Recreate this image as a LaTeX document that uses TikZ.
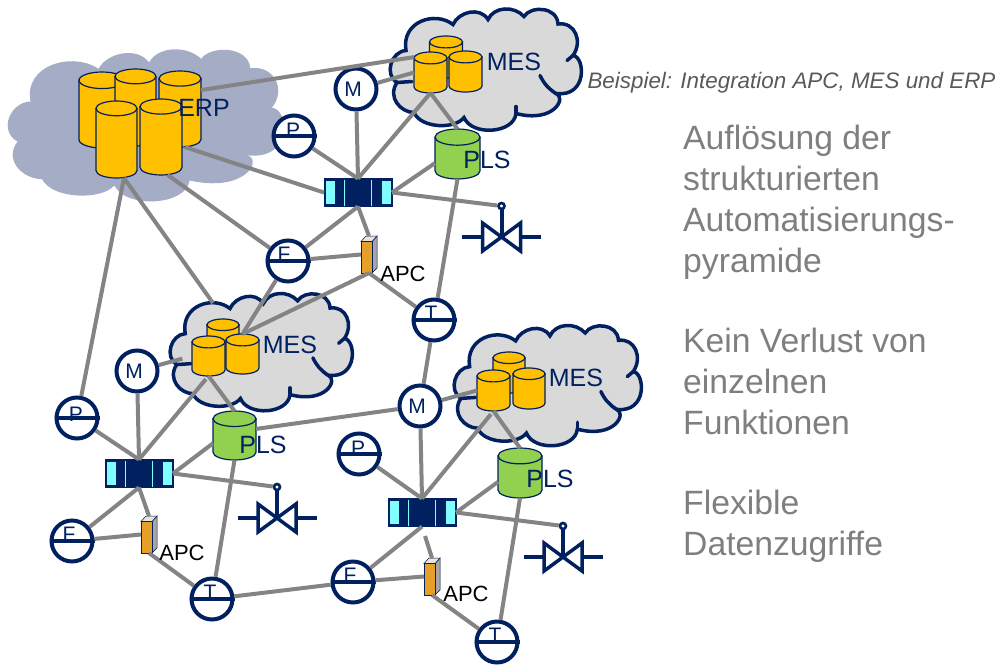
\documentclass[tikz,border=0pt]{standalone}
\usepackage{fontspec}
\setmainfont{Liberation Sans}
\definecolor{navy}{HTML}{002060}
\definecolor{linegray}{HTML}{848484}
\definecolor{sw}{HTML}{7FFFFF}
\definecolor{yel}{HTML}{FFC000}
\definecolor{grn}{HTML}{92D050}
\definecolor{cgray}{HTML}{D9D9D9}
\definecolor{cblue}{HTML}{A5ADC6}
\definecolor{txtgray}{HTML}{7F7F7F}
\definecolor{capgray}{HTML}{595959}
\definecolor{org}{HTML}{E6A02A}
\definecolor{sidegray}{HTML}{A6A6A6}
\tikzset{
 conn/.style={draw=linegray,line width=4pt},
 tail/.style={line width=3.5pt,draw=navy,line cap=round},
 dev/.style={circle,draw=navy,line width=4pt,fill=white,minimum size=41pt,inner sep=0pt},
 devl/.style={anchor=base,text=navy,inner sep=0pt,font=\fontsize{21}{24}\selectfont},
 box/.style={rectangle,inner sep=0pt,outer sep=0pt},
 cylb/.style={draw=navy,line width=1.2pt},
 lab/.style={anchor=center,text=navy,inner sep=0pt,font=\fontsize{25}{30}\selectfont},
 apcl/.style={anchor=center,text=black,inner sep=0pt,font=\fontsize{22}{26}\selectfont},
 side/.style={anchor=north west,text=txtgray,inner sep=0pt,align=left,font=\fontsize{33.7}{41}\selectfont},
}
\newcommand{\cloudfig}[6]{%
 \begin{scope}[shift={(#2,#3)},xscale=#4/191,yscale=#5/122]
  \path[#6] (17,41)
   .. controls (12,12) and (46,1) .. (64,15)
   .. controls (70,2) and (91,-3) .. (99,10)
   .. controls (105,-3) and (125,-4) .. (135,7)
   .. controls (142,-4) and (168,-3) .. (169,14.5)
   .. controls (186,12) and (194,32) .. (184,46)
   .. controls (196,47) and (199,88) .. (167,84)
   .. controls (178,88) and (165,114) .. (127,104)
   .. controls (125,124) and (83,127) .. (75,108)
   .. controls (66,120) and (32,119) .. (25,103)
   .. controls (12,103) and (-2,88) .. (8,73)
   .. controls (-5,65) and (2,42) .. (17,41) -- cycle;
  \ifx#1n\else
  \draw[tail] (167,84) to[bend left=15] (151,66);
  \draw[tail] (184,46) -- (178,51);
  \draw[tail] (127,104) -- (127,97);
  \draw[tail] (8,73) -- (23,72);
  \fi
 \end{scope}}
\newcommand{\cyl}[6]{%
 \pgfmathsetmacro{\cx}{(#2+#3)/2}\pgfmathsetmacro{\rx}{(#3-#2)/2}
 \pgfmathsetmacro{\ry}{\rx*0.36}\pgfmathsetmacro{\T}{#4+\ry}\pgfmathsetmacro{\B}{#5-\ry}
 \node[box,minimum width={(#3-#2)*1pt},minimum height={(#5-#4)*1pt}] (#1) at (\cx,{(#4+#5)/2}) {};
 \draw[cylb,fill=#6] (#2,\T) -- (#2,\B) .. controls (#2,{\B+.55*\ry}) and ({\cx-.55*\rx},{\B+\ry}) .. (\cx,{\B+\ry})
   .. controls ({\cx+.55*\rx},{\B+\ry}) and (#3,{\B+.55*\ry}) .. (#3,\B) -- (#3,\T) -- cycle;
 \draw[cylb,fill=#6] (\cx,\T) ellipse [x radius=\rx,y radius=\ry];}
\newcommand{\swb}[5]{% name x y w lines
 \node[box,fill=navy,draw=navy,line width=1pt,minimum width=68pt,minimum height=28pt] (#1) at (#2,#3) {};
 \fill[sw] ({#2-32},{#3-11.5}) rectangle ({#2-23},{#3+11.5});
 \fill[sw] ({#2+23.5},{#3-11.5}) rectangle ({#2+32.5},{#3+11.5});
 \draw[sw,line width=.7pt] ({#2-14},{#3-13}) -- ({#2-14},{#3+13}) ({#2+13},{#3-13}) -- ({#2+13},{#3+13});
 \ifx#4y\draw[sw,line width=.7pt] ({#2},{#3-13}) -- ({#2},{#3+13});\fi}
\newcommand{\devc}[6]{% name x y letter xoff yoff
 \node[dev] (#1) at (#2,#3) {};
 \node[devl] (#1t) at ({#2+#5},{#3+#6}) {#4};
 \draw[navy,line width=4pt] (#1.west) -- (#1.east);}
\newcommand{\devm}[3]{% name x y
 \node[dev] (#1) at (#2,#3) {};
 \node[devl,anchor=center] (#1t) at ({#2-3},{#3+.5}) {M};}
\newcommand{\apcb}[3]{% name left top
 \node[box,minimum width=16pt,minimum height=37pt] (#1) at ({#2+8},{#3+18.5}) {};
 \draw[navy!60!black,line width=.5pt,fill=sidegray] ({#2+11},{#3+5.5}) -- ({#2+16},{#3}) -- ({#2+16},{#3+32}) -- ({#2+11},{#3+37}) -- cycle;
 \draw[navy!60!black,line width=.5pt,fill=gray!20] ({#2},{#3+5.5}) -- ({#2+5},{#3}) -- ({#2+16},{#3}) -- ({#2+11},{#3+5.5}) -- cycle;
 \draw[navy,line width=1pt,fill=org] ({#2},{#3+5.5}) rectangle ({#2+11},{#3+37});}
\newcommand{\valve}[3]{% name x ytop
 \draw[navy,line width=4pt] (#2,#3) -- (#2,{#3+31});
 \draw[navy,line width=4pt] ({#2-39.5},{#3+31}) -- ({#2-19},{#3+31}) ({#2+19},{#3+31}) -- ({#2+39.5},{#3+31});
 \draw[navy,line width=3.5pt,fill=white,line join=miter] ({#2-19},{#3+17}) -- ({#2+19},{#3+45}) -- ({#2+19},{#3+17}) -- ({#2-19},{#3+45}) -- cycle;
 \draw[navy,line width=4pt] (#2,{#3+20}) -- (#2,{#3+31});
 \node[circle,draw=navy,line width=2.6pt,fill=white,minimum size=6pt,inner sep=0pt] (#1) at (#2,#3) {};}
\begin{document}
\begin{tikzpicture}[x=1pt,y=-1pt]
\useasboundingbox (0,0) rectangle (1000,664);
% clouds
\cloudfig{n}{6}{50}{276}{153}{fill=cblue}
\cloudfig{s}{389}{9.5}{191}{122}{fill=cgray,draw=navy,line width=3.5pt}
\cloudfig{s}{169}{294}{182}{118}{fill=cgray,draw=navy,line width=3.5pt}
\cloudfig{s}{453}{326}{187}{121}{fill=cgray,draw=navy,line width=3.5pt}
\coordinate (c2top) at (213,303);
% ERP
\cyl{erp1}{79}{125}{72}{148}{yel}
\cyl{erp2}{115}{156}{69}{146}{yel}
\cyl{erp3}{159}{201}{71}{147}{yel}
\cyl{erp4}{96}{137}{101}{178}{yel}
\cyl{erp5}{140}{182}{99}{175}{yel}
% MES 1
\cyl{mes1c}{429.5}{462.5}{36}{78}{yel}
\cyl{mes1a}{414}{447}{52}{93}{yel}
\cyl{mes1b}{449}{482}{51}{92}{yel}
\cyl{pls1}{435}{480}{129}{179}{grn}
% MES 2
\cyl{mes2c}{207}{239}{319}{360}{yel}
\cyl{mes2a}{192}{225}{336}{376}{yel}
\cyl{mes2b}{226}{259}{334}{374}{yel}
\cyl{pls2}{213}{256}{411}{460}{grn}
% MES 3
\cyl{mes3c}{493}{525}{352}{393}{yel}
\cyl{mes3a}{477}{510}{370}{411}{yel}
\cyl{mes3b}{513}{545}{368}{409}{yel}
\cyl{pls3}{498}{542}{448}{498}{grn}
% devices
\devm{m1}{356}{89}
\devm{m2}{137}{371}
\devm{m3}{420}{406}
\devc{p1}{294}{136}{P}{-1}{1}
\devc{f1}{288}{261}{F}{-4}{0}
\devc{t1}{434}{320}{T}{-3}{0}
\devc{p2}{77}{418}{P}{-1}{3}
\devc{f2}{72}{541}{F}{-3}{0}
\devc{t2}{212}{599}{T}{-2}{0}
\devc{p3}{359}{454}{P}{-1}{1}
\devc{f3}{353}{582}{F}{-3}{0}
\devc{t3}{497}{642}{T}{-2}{0}
\swb{sw1}{358}{192.5}{68}{n}
\swb{sw2}{139}{473.5}{68}{n}
\swb{sw3}{422}{512.5}{68}{y}
\apcb{apc1}{361}{236}
\apcb{apc2}{141}{516}
\apcb{apc3}{424}{558}
\valve{v1}{501.5}{206}
\valve{v2}{277}{487}
\valve{v3}{563}{526}
% connectors
\draw[conn] (erp3.42) -- (mes1a.137);
\draw[conn] (erp3.-83) -- (sw1.west);
\draw[conn] (erp5.-80) -- (f1);
\draw[conn] (erp4.-79) -- (c2top);
\draw[conn] (erp4.-79) -- (p2);
\draw[conn] (m1) -- (mes1a.west);
\draw[conn] (m1) -- (sw1.north);
\draw[conn] (p1) -- (sw1.north);
\draw[conn] (mes1a.south) -- (sw1.north);
\draw[conn] (mes1a.south) -- (pls1.north);
\draw[conn] (sw1.east) -- (pls1.202);
\draw[conn] (sw1.east) -- (v1);
\draw[conn] (pls1.south) -- (t1);
\draw[conn] (sw1.south) -- (f1);
\draw[conn] (sw1.south) -- (apc1.north);
\draw[conn] (f1) -- (apc1.west);
\draw[conn] (apc1.south) -- (mes2b.north);
\draw[conn] (apc1.south) -- (t1);
\draw[conn] (f1) -- (mes2b.north);
\draw[conn] (t1) -- (m3);
\draw[conn,shorten >=10pt] (m2) -- (mes2a.west);
\draw[conn] (m2) -- (sw2.north);
\draw[conn] (p2) -- (sw2.north);
\draw[conn,shorten >=4pt] (sw2.north) -- (mes2a.south);
\draw[conn] (mes2a.south) -- (pls2.north);
\draw[conn] (sw2.east) -- (pls2.200);
\draw[conn] (sw2.east) -- (v2);
\draw[conn] (pls2.south) -- (t2);
\draw[conn] (sw2.south) -- (f2);
\draw[conn] (sw2.south) -- (apc2.north);
\draw[conn] (f2) -- (apc2.west);
\draw[conn] (apc2.south) -- (t2);
\draw[conn] (t2) -- (f3);
\draw[conn] (pls2.17) -- (m3);
\draw[conn] (m3) -- (mes3a.west);
\draw[conn] (m3) -- (sw3.north);
\draw[conn] (p3) -- (sw3.north);
\draw[conn,shorten >=4pt] (sw3.north) -- (mes3a.south);
\draw[conn] (mes3a.south) -- (pls3.north);
\draw[conn] (sw3.east) -- (pls3.202);
\draw[conn] (sw3.east) -- (v3);
\draw[conn] (pls3.south) -- (t3);
\draw[conn] (sw3.south) -- (f3);
\draw[conn,shorten <=10pt] (sw3.south) -- (apc3.north);
\draw[conn] (f3) -- (apc3.west);
\draw[conn] (apc3.south) -- (t3);
% labels
\node[lab] (erpl) at (204,108) {ERP};
\node[lab] (mes1l) at (514,62) {MES};
\node[lab] (mes2l) at (290,345) {MES};
\node[lab] (mes3l) at (576,378) {MES};
\node[lab] (pls1l) at (487,160) {PLS};
\node[lab] (pls2l) at (263,445) {PLS};
\node[lab] (pls3l) at (550,479) {PLS};
\node[apcl] (apc1l) at (403,274) {APC};
\node[apcl] (apc2l) at (182,553) {APC};
\node[apcl] (apc3l) at (466,594) {APC};
\node[anchor=center,inner sep=0pt,text=capgray,font=\fontsize{22.4}{26}\selectfont\itshape] (cap) at (791.5,83) {Beispiel: Integration APC, MES und ERP};
\node[side] (s1) at (683,124.5) {Auflösung der\\strukturierten\\Automatisierungs-\\pyramide};
\node[side] (s2) at (683,327.5) {Kein Verlust von\\einzelnen\\Funktionen};
\node[side] (s3) at (683,489.5) {Flexible\\Datenzugriffe};
\end{tikzpicture}
\end{document}
